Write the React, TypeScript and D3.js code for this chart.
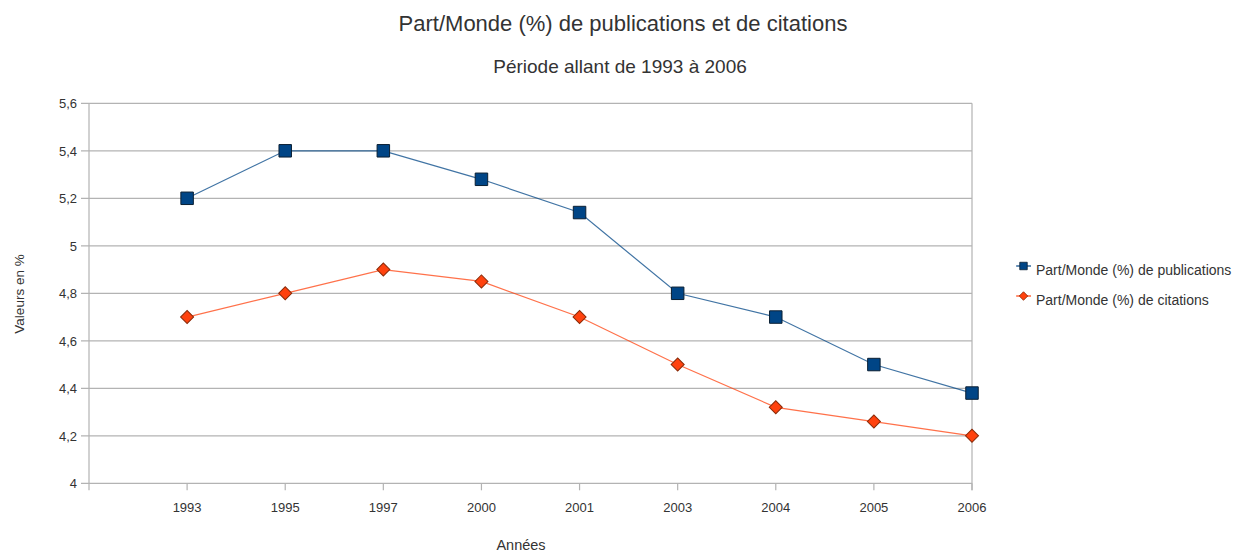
import React, { useEffect, useRef } from "react";
import * as d3 from "d3";

// data
const years = ["1993", "1995", "1997", "2000", "2001", "2003", "2004", "2005", "2006"];
const publications = [5.2, 5.4, 5.4, 5.28, 5.14, 4.8, 4.7, 4.5, 4.38];
const citations = [4.7, 4.8, 4.9, 4.85, 4.7, 4.5, 4.32, 4.26, 4.2];
const yTicks = [4, 4.2, 4.4, 4.6, 4.8, 5, 5.2, 5.4, 5.6];

const seriesNames = ["Part/Monde (%) de publications", "Part/Monde (%) de citations"];
const seriesColors = ["#004586", "#ff420e"];
const markerStroke = ["#0a1f33", "#8a2a08"];

const W = 1235;
const H = 552;
const FONT = "'Liberation Sans', Arial, sans-serif";
const GRID = "#b3b3b3";
const TXT = "#333";

export default function App() {
	const svgRef = useRef<SVGSVGElement | null>(null);

	useEffect(() => {
		if (!svgRef.current) return;
		const svg = d3.select(svgRef.current);
		svg.selectAll("*").remove();

		const left = 89;
		const right = 972;
		const top = 103.3;
		const bottom = 483.3;

		// categories sit at 1..9, the slot at 0 is empty (LibreOffice style)
		const x = d3.scaleLinear().domain([0, years.length]).range([left, right]);
		const y = d3.scaleLinear().domain([4, 5.6]).range([bottom, top]);
		const fmt = (v: number) => d3.format("~g")(v).replace(".", ",");

		// titles
		svg.append("text").attr("x", 623).attr("y", 31).attr("text-anchor", "middle")
			.style("font", `22px ${FONT}`).attr("fill", TXT).text("Part/Monde (%) de publications et de citations");
		svg.append("text").attr("x", 620).attr("y", 73).attr("text-anchor", "middle")
			.style("font", `19px ${FONT}`).attr("fill", TXT).text("Période allant de 1993 à 2006");

		// grid + y ticks
		const g = svg.append("g");
		yTicks.forEach((t) => {
			g.append("line").attr("x1", left - 8).attr("x2", right).attr("y1", y(t)).attr("y2", y(t))
				.attr("stroke", GRID).attr("stroke-width", 1.2);
			g.append("text").attr("x", left - 12).attr("y", y(t) + 5).attr("text-anchor", "end")
				.style("font", `13px ${FONT}`).attr("fill", TXT).text(fmt(t));
		});
		// axes frame
		g.append("line").attr("x1", left).attr("x2", left).attr("y1", top).attr("y2", bottom + 7)
			.attr("stroke", GRID).attr("stroke-width", 1.2);
		g.append("line").attr("x1", right).attr("x2", right).attr("y1", top).attr("y2", bottom + 7)
			.attr("stroke", GRID).attr("stroke-width", 1.2);
		years.forEach((yr, i) => {
			g.append("line").attr("x1", x(i + 1)).attr("x2", x(i + 1)).attr("y1", bottom).attr("y2", bottom + 7)
				.attr("stroke", GRID).attr("stroke-width", 1.2);
			g.append("text").attr("x", x(i + 1)).attr("y", bottom + 29).attr("text-anchor", "middle")
				.style("font", `13px ${FONT}`).attr("fill", TXT).text(yr);
		});

		// axis titles
		svg.append("text").attr("x", 521).attr("y", 550).attr("text-anchor", "middle")
			.style("font", `14.5px ${FONT}`).attr("fill", TXT).text("Années");
		svg.append("text").attr("transform", `translate(24,294) rotate(-90)`).attr("text-anchor", "middle")
			.style("font", `13.5px ${FONT}`).attr("fill", TXT).text("Valeurs en %");

		const line = d3.line<number>().x((_, i) => x(i + 1)).y((d) => y(d));
		const marker = (s: number, big: boolean) =>
			d3.symbol().type(d3.symbolSquare).size(s === 0 ? (big ? 156 : 56) : (big ? 85 : 36))();

		[publications, citations].forEach((vals, s) => {
			svg.append("path").datum(vals).attr("d", line).attr("fill", "none")
				.attr("stroke", seriesColors[s]).attr("stroke-opacity", 0.75).attr("stroke-width", 1.2);
			svg.append("g").selectAll("path").data(vals).enter().append("path")
				.attr("d", marker(s, true))
				.attr("transform", (d, i) => `translate(${x(i + 1)},${y(d)})${s === 1 ? " rotate(45)" : ""}`)
				.attr("fill", seriesColors[s])
				.attr("stroke", markerStroke[s])
				.attr("stroke-width", 1);
		});

		// legend
		const lg = svg.append("g");
		seriesNames.forEach((name, s) => {
			const cy = 266 + s * 30;
			lg.append("line").attr("x1", 1016).attr("x2", 1031).attr("y1", cy).attr("y2", cy)
				.attr("stroke", seriesColors[s]).attr("stroke-width", 1.2);
			lg.append("path").attr("d", marker(s, false))
				.attr("transform", `translate(1023.5,${cy})${s === 1 ? " rotate(45)" : ""}`).attr("fill", seriesColors[s])
				.attr("stroke", markerStroke[s]).attr("stroke-width", 0.8);
			lg.append("text").attr("x", 1036).attr("y", cy + 9)
				.style("font", `14px ${FONT}`).attr("fill", TXT).text(name);
		});
	}, []);

	return (
		<div style={{ position: "absolute", left: 0, top: 0, background: "#fff" }}>
			<svg ref={svgRef} width={W} height={H} style={{ display: "block" }} />
		</div>
	);
}
